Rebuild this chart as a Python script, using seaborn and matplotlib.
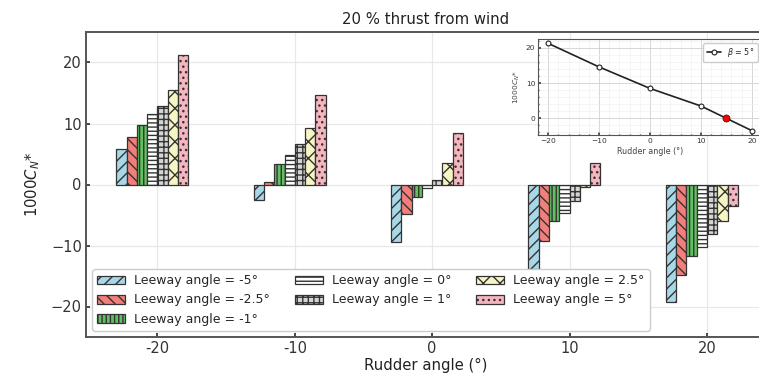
import numpy as np
import pandas as pd
import matplotlib
matplotlib.use("Agg")
import matplotlib.pyplot as plt
import seaborn as sns

# ---------------- data ----------------
rudder = [-20, -10, 0, 10, 20]
leeway = [-5, -2.5, -1, 0, 1, 2.5, 5]
cn_m5 = [5.8, -2.6, -9.4, -13.9, -19.3]
cn_m25 = [7.8, 0.4, -4.8, -9.3, -14.8]
cn_m1 = [9.8, 3.4, -2.0, -6.0, -11.8]
cn_0 = [11.5, 4.8, -0.6, -4.7, -10.2]
cn_1 = [12.8, 6.6, 0.8, -2.7, -8.1]
cn_25 = [15.5, 9.2, 3.5, -0.4, -6.0]
cn_5 = [21.3, 14.6, 8.5, 3.5, -3.5]
series = [cn_m5, cn_m25, cn_m1, cn_0, cn_1, cn_25, cn_5]
labels = [f"Leeway angle = {l:g}°" for l in leeway]
xtick_labels = ["-20", "-10", "0", "10", "20"]
zero_cross = (15, 0.1)

colors = ["#a8d8e8", "#f47f7a", "#63bf63", "#ffffff", "#d5d5d5", "#f7f5c4", "#f6b6c0"]
hatches = ["///", "\\\\\\", "||||", "----", "+++", "xx", "..."]

# ---------------- style ----------------
sns.set_theme(style="whitegrid", rc={
    "axes.edgecolor": "#555555",
    "axes.linewidth": 1.4,
    "grid.color": "#e8e8e8",
    "grid.linewidth": 0.9,
    "xtick.direction": "in",
    "ytick.direction": "in",
    "xtick.bottom": True,
    "ytick.left": True,
    "xtick.color": "#333333",
    "ytick.color": "#333333",
    "xtick.major.size": 3,
    "ytick.major.size": 3,
    "hatch.linewidth": 1.0,
})
plt.rcParams["font.family"] = ["DejaVu Sans"]

rows = []
for lab, vals in zip(labels, series):
    for r, v in zip(rudder, vals):
        rows.append({"rudder": r, "leeway": lab, "cn": v})
df = pd.DataFrame(rows)

bar_w = 0.75
df["xpos"] = df["rudder"] - bar_w / 2

fig = plt.figure(figsize=(7.59, 3.77), dpi=100)
ax = fig.add_axes([86 / 759, 40 / 377, 680 / 759, 305 / 377])

sns.barplot(data=df, x="xpos", y="cn", hue="leeway", hue_order=labels,
            palette=dict(zip(labels, colors)), native_scale=True,
            width=bar_w * len(leeway) / 10, errorbar=None, legend=False,
            edgecolor="#333333", linewidth=0.9, saturation=1, ax=ax)

for cont, h in zip(ax.containers, hatches):
    for p in cont.patches:
        p.set_hatch(h)

ax.set_xlim(-25.2, 24.3)
ax.set_ylim(-25, 25)
ax.set_xticks(rudder)
ax.set_xticklabels(xtick_labels)
ax.set_yticks([-20, -10, 0, 10, 20])
ax.tick_params(axis="both", labelsize=10.5, pad=3)
ax.set_xlabel("Rudder angle (°)", fontsize=10.7, color="#222222", labelpad=1)
ax.set_ylabel("1000$C_N$*", fontsize=10.7, color="#222222", labelpad=6)
ax.set_title("20 % thrust from wind", fontsize=10.7, color="#222222", pad=6)
ax.set_axisbelow(True)

ax.legend(handles=list(ax.containers), labels=labels, ncol=3, loc="lower left",
          fontsize=9, handlelength=2.2, handletextpad=0.75, columnspacing=2.0,
          frameon=True, edgecolor="#cccccc", framealpha=1)

# ---------------- inset ----------------
axi = fig.add_axes([538 / 759, (377 - 135) / 377, 224 / 759, 96 / 377])
axi.set_facecolor("white")
sns.lineplot(x=rudder, y=cn_5, ax=axi, color="#222222", linewidth=1.2,
             marker="o", markersize=3.5, markerfacecolor="white",
             markeredgecolor="#222222", markeredgewidth=0.8, label=r"$\beta$ = 5°")
axi.plot([zero_cross[0]], [zero_cross[1]], "o", color="red",
         markeredgecolor="#222222", markeredgewidth=0.6, markersize=5)
axi.set_xticks(rudder)
axi.set_yticks([0, 10, 20])
axi.minorticks_on()
axi.grid(True, which="major", color="#d0d0d0", linewidth=0.6)
axi.grid(True, which="minor", color="#eeeeee", linewidth=0.4)
axi.tick_params(which="both", direction="in", labelsize=5.4, pad=2, length=2,
                color="#444444")
axi.tick_params(which="minor", length=1)
for s in axi.spines.values():
    s.set_color("#555555")
    s.set_linewidth(0.8)
axi.set_xlabel("Rudder angle (°)", fontsize=5.8, labelpad=2, color="#444444")
axi.set_ylabel("1000$C_N$*", fontsize=5.4, labelpad=3, color="#444444")
axi.legend(loc="upper right", fontsize=5.8, handlelength=1.8, frameon=True,
           edgecolor="#cccccc", framealpha=1, borderpad=0.4)

fig.savefig("out.png", dpi=100)
